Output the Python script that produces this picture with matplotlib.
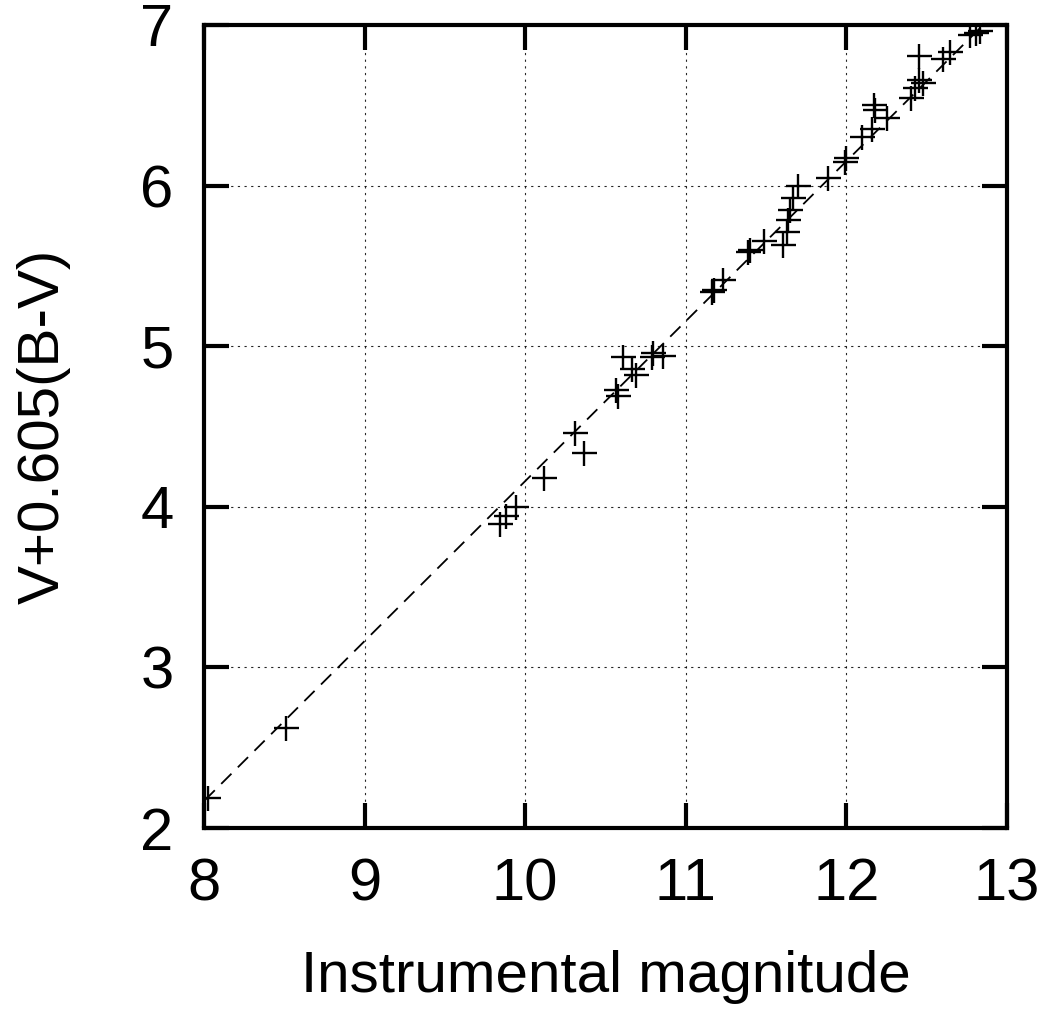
import matplotlib
matplotlib.use("Agg")
import matplotlib.pyplot as plt
import numpy as np

plt.rcParams['font.family'] = ['Liberation Sans', 'DejaVu Sans']

inst_mag = [8.025, 8.51, 9.843, 9.88, 9.94, 10.117, 10.31, 10.366, 10.565, 10.578,
            10.61, 10.665, 10.69, 10.79, 10.796, 10.86, 11.163, 11.175, 11.23, 11.39,
            11.40, 11.49, 11.605, 11.63, 11.636, 11.65, 11.67, 11.70, 11.885, 11.99,
            12.0, 12.10, 12.16, 12.18, 12.17, 12.25, 12.40, 12.43, 12.45, 12.45,
            12.48, 12.60, 12.645, 12.77, 12.81, 12.83]
v_corr = [2.187, 2.62, 3.894, 3.943, 4.0, 4.18, 4.46, 4.335, 4.727, 4.69,
          4.93, 4.858, 4.82, 4.93, 4.96, 4.94, 5.337, 5.35, 5.41, 5.587,
          5.60, 5.655, 5.63, 5.71, 5.786, 5.85, 5.92, 6.0, 6.05, 6.147,
          6.17, 6.30, 6.35, 6.47, 6.50, 6.42, 6.545, 6.61, 6.66, 6.81,
          6.64, 6.79, 6.83, 6.94, 6.95, 6.96]

fit_slope = 0.996
fit_intercept = -5.80

fig = plt.figure(figsize=(10.53, 10.11), dpi=100)
ax = fig.add_axes([204/1053, 1-828/1011, (1007-204)/1053, (828-25)/1011])

xs = np.array([7.9, 13.1])
ax.plot(xs, fit_slope*xs + fit_intercept, color='black', lw=1.3, dashes=(8, 5))
ax.plot(inst_mag, v_corr, linestyle='none', marker='+', markersize=18,
        markeredgewidth=1.7, color='black')

ax.set_xlim(8, 13)
ax.set_ylim(2, 7)
ax.set_xticks([8, 9, 10, 11, 12, 13])
ax.set_yticks([2, 3, 4, 5, 6, 7])
ax.grid(True, color='black', linestyle=(0, (2, 4)), linewidth=0.8, alpha=0.85)
ax.tick_params(direction='in', length=18, width=3, labelsize=43,
               top=True, right=True)
ax.xaxis.set_tick_params(pad=21)
ax.yaxis.set_tick_params(pad=22)
for s in ax.spines.values():
    s.set_linewidth(3)
ax.set_xlabel('Instrumental magnitude', fontsize=42, labelpad=27)
ax.set_ylabel('V+0.605(B-V)', fontsize=42, labelpad=50)

fig.savefig('out.png', dpi=100)
